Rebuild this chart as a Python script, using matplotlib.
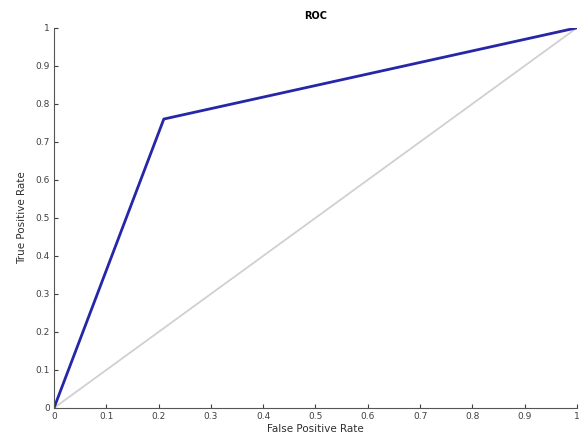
import numpy as np
import matplotlib
matplotlib.use('agg')
from matplotlib import pyplot as plt

# ROC curve points
fpr = [0.0, 0.21, 1.0]
tpr = [0.0, 0.76, 1.0]
chance = [0.0, 1.0]
ticks = [0, 0.1, 0.2, 0.3, 0.4, 0.5, 0.6, 0.7, 0.8, 0.9, 1]
tick_labels = ['0', '0.1', '0.2', '0.3', '0.4', '0.5', '0.6', '0.7', '0.8', '0.9', '1']

fig = plt.figure(figsize=(5.85, 4.37), dpi=100)
ax = fig.add_axes([0.0923, 0.0664, 0.894, 0.870])

ax.plot(chance, chance, color='#d0d0d0', lw=1.3)
ax.plot(fpr, tpr, color='#2626a8', lw=2)

ax.set_xlim(0, 1)
ax.set_ylim(0, 1)
ax.set_xticks(ticks)
ax.set_xticklabels(tick_labels)
ax.set_yticks(ticks)
ax.set_yticklabels(tick_labels)
ax.tick_params(direction='in', length=3, labelsize=6.5, colors='#404040', pad=3)
for s in ['top', 'right']:
    ax.spines[s].set_visible(False)
for s in ['left', 'bottom']:
    ax.spines[s].set_color('#555555')
    ax.spines[s].set_linewidth(0.8)

ax.set_title('ROC', fontsize=7, fontweight='bold', pad=6)
ax.set_xlabel('False Positive Rate', fontsize=7.5, labelpad=2, color='#303030')
ax.set_ylabel('True Positive Rate', fontsize=7.5, labelpad=6, color='#303030')

plt.savefig('out.png')
